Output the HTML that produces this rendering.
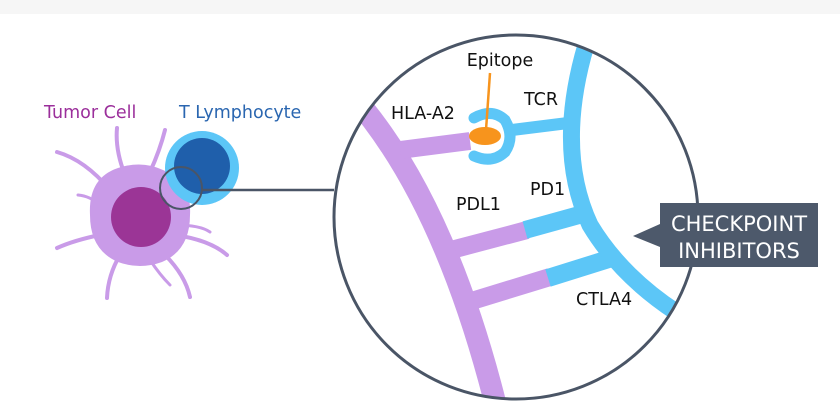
<!DOCTYPE html>
<html><head><style>
html,body{margin:0;padding:0;background:#fff;}
svg{display:block}
text{font-family:"DejaVu Sans","Liberation Sans",sans-serif;}
</style></head><body>
<svg width="840" height="416" viewBox="0 0 840 416" xmlns="http://www.w3.org/2000/svg">
<rect x="0" y="0" width="840" height="14" fill="#f6f6f6"/>
<g stroke="#c99be8" stroke-linecap="round" fill="none">
<path d="M110 190 Q85 160 57 152" stroke-width="4"/>
<path d="M125 175 Q115 150 117 128" stroke-width="4"/>
<path d="M150 172 Q160 150 165 130" stroke-width="4"/>
<path d="M100 205 Q90 196 78 195" stroke-width="3"/>
<path d="M100 235 Q75 240 57 248" stroke-width="4"/>
<path d="M120 255 Q108 275 107 298" stroke-width="4"/>
<path d="M165 255 Q185 275 190 297" stroke-width="4"/>
<path d="M175 235 Q210 240 227 255" stroke-width="4"/>
<path d="M150 260 Q160 275 170 285" stroke-width="3"/>
<path d="M175 225 Q200 225 210 232" stroke-width="3"/>
</g>
<path d="M90 215 Q88 178 118 168 Q142 160 163 170 Q192 182 190 215 Q190 250 162 262 Q140 270 118 262 Q90 250 90 215 Z" fill="#c99be8"/>
<circle cx="141" cy="217" r="30" fill="#9b3596"/>
<circle cx="202" cy="168" r="37" fill="#5cc6f7"/>
<circle cx="202" cy="166" r="28" fill="#1f5fab"/>
<circle cx="181" cy="188" r="21" fill="none" stroke="#4a5566" stroke-width="2"/>
<line x1="202" y1="190" x2="334" y2="190" stroke="#4a5566" stroke-width="2.5"/>
<text x="44" y="118" font-size="17.5" fill="#9b2f9b">Tumor Cell</text>
<text x="179" y="118" font-size="17.5" fill="#2a66b0">T Lymphocyte</text>
<defs><clipPath id="c"><circle cx="516" cy="217" r="182"/></clipPath></defs>
<circle cx="516" cy="217" r="182" fill="#fff"/>
<g clip-path="url(#c)" fill="none" stroke-linecap="butt">
<path d="M352 95 Q445 200 497 410" stroke="#c99be8" stroke-width="22"/>
<path d="M400 150 L470 141" stroke="#c99be8" stroke-width="18"/>
<path d="M455 249 L527 230" stroke="#c99be8" stroke-width="18"/>
<path d="M525 230 L590 212" stroke="#5cc6f7" stroke-width="18"/>
<path d="M475 300 L550 277" stroke="#c99be8" stroke-width="18"/>
<path d="M548 278 L615 257" stroke="#5cc6f7" stroke-width="18"/>
<path d="M586 45 Q555 150 590 225 Q620 275 676 312" stroke="#5cc6f7" stroke-width="17"/>
<path d="M568 123 L512 130" stroke="#5cc6f7" stroke-width="12"/>
<path d="M474 118 Q492 108 505 120 Q515 137 505 152 Q492 164 474 156" stroke="#5cc6f7" stroke-width="11" stroke-linecap="round"/>
</g>
<ellipse cx="485" cy="136" rx="16" ry="9" fill="#f7941d"/>
<line x1="490" y1="73" x2="486" y2="130" stroke="#f7941d" stroke-width="2.5"/>
<circle cx="516" cy="217" r="182" fill="none" stroke="#4a5566" stroke-width="3"/>
<g font-size="17.5" fill="#111">
<text x="500" y="66" text-anchor="middle">Epitope</text>
<text x="391" y="119">HLA-A2</text>
<text x="524" y="105">TCR</text>
<text x="530" y="195">PD1</text>
<text x="456" y="210">PDL1</text>
<text x="576" y="305">CTLA4</text>
</g>
<path d="M660 203 H818 V267 H660 V247 L633 236 L660 224 Z" fill="#4d596b"/>
<g font-size="21" fill="#fff" text-anchor="middle">
<text x="739" y="231">CHECKPOINT</text>
<text x="739" y="258">INHIBITORS</text>
</g>
</svg>
</body></html>
